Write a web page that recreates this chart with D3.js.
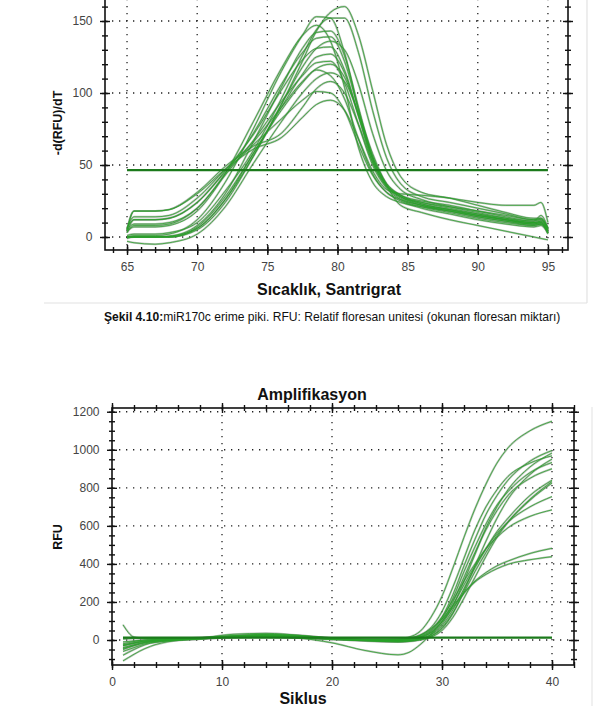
<!DOCTYPE html>
<html>
<head>
<meta charset="utf-8">
<script src="https://cdn.jsdelivr.net/npm/d3@7"></script>
<style>
  body { margin: 0; background: #fff; }
  svg { display: block; font-family: "Liberation Sans", Arial, sans-serif; }
</style>
</head>
<body>
<svg id="fig" width="599" height="706"></svg>
<script>
// ---- melt curve (Sekil 4.10) ----
const meltTemps = [65, 65.5, 67, 68, 70, 72, 74, 76, 77.5, 78.5, 79.5, 80.5, 81.5, 82.5, 83.5, 84.5, 86, 88, 90, 92, 94, 94.5, 95];
const meltCurves = [
  [-1, 0, 0, 0.5, 6, 26, 56, 92, 122, 143, 156, 160, 140, 102, 64, 42, 31, 27, 22, 17, 13, 13, 6],
  [0, 1, 1, 2, 12, 38, 75, 115, 140, 153, 152, 128, 88, 54, 36, 29, 25, 22, 18, 14, 11, 12, 5],
  [1, 2, 2, 3, 10, 32, 60, 96, 126, 144, 152, 152, 128, 88, 55, 37, 28, 24, 20, 16, 12, 12, 6],
  [4, 7, 7, 8, 18, 44, 80, 117, 140, 147, 136, 104, 62, 38, 28, 24, 21, 18, 15, 12, 10, 11, 4],
  [0, 0, 0, 0.5, 8, 30, 66, 104, 131, 142, 143, 126, 90, 56, 37, 29, 24, 20, 16, 12, 9, 10, 3],
  [5, 9, 9, 10, 20, 44, 72, 106, 128, 138, 139, 122, 88, 55, 36, 28, 23, 19, 15, 12, 10, 11, 5],
  [0, 0, 0, 0, 5, 24, 56, 92, 118, 131, 136, 130, 106, 72, 46, 33, 26, 21, 17, 13, 10, 10, 4],
  [6, 12, 12, 13, 24, 46, 71, 102, 123, 131, 132, 116, 84, 52, 35, 27, 22, 18, 14, 11, 9, 10, 3],
  [0, 0, 0, 0, 7, 28, 58, 90, 113, 125, 127, 114, 84, 54, 36, 28, 22, 18, 14, 11, 8, 9, 2],
  [3, 8, 8, 9, 20, 43, 67, 94, 112, 121, 122, 107, 78, 50, 34, 26, 21, 17, 13, 10, 8, 9, 3],
  [6, 14, 14, 15, 27, 47, 66, 90, 108, 116, 112, 96, 68, 44, 31, 25, 20, 16, 12, 9, 7, 8, 3],
  [-3, -4, -5, -4, 2, 21, 51, 80, 100, 110, 114, 108, 86, 58, 36, 22, 17, 12, 8, 4, 0, -1, -2],
  [5, 18, 18, 19, 31, 49, 63, 72, 90, 103, 108, 100, 78, 52, 35, 28, 24, 21, 18, 15, 12, 13, 6],
  [5, 18, 18, 19, 30, 47, 61, 69, 83, 92, 95, 88, 68, 46, 33, 30, 29, 27, 24, 22, 22, 24, 10],
  [0, 0, 0, 0, 6, 26, 58, 88, 107, 117, 120, 111, 85, 56, 37, 29, 23, 19, 15, 12, 9, 9, 3],
  [3, 12, 12, 13, 24, 45, 64, 82, 95, 101, 100, 88, 64, 43, 31, 26, 22, 19, 16, 13, 11, 15, 6]
];
const meltThreshold = 46.5;
const meltXTicks = [65, 70, 75, 80, 85, 90, 95];
const meltYTicks = [0, 50, 100, 150];

// ---- amplification ----
const ampCycles = [1, 2, 3, 5, 8, 11, 14, 17, 20, 23, 26, 27, 28, 29, 30, 31, 32, 33, 34, 35, 36, 38, 40];
const ampCurves = [
  [-30, -15, -5, 0, 8, 20, 25, 15, 5, 0, 5, 15, 45, 120, 230, 380, 540, 690, 820, 930, 1010, 1100, 1150],
  [-50, -30, -15, -2, 10, 30, 35, 25, 10, 0, 0, 5, 18, 50, 120, 240, 390, 530, 660, 760, 840, 940, 996],
  [-20, -8, 0, 5, 10, 15, 20, 15, 5, -5, -10, -5, 5, 30, 85, 180, 310, 450, 590, 700, 790, 910, 983],
  [10, 12, 10, 8, 12, 22, 28, 22, 10, 5, 5, 10, 25, 65, 150, 280, 430, 580, 700, 790, 860, 930, 968],
  [-40, -25, -12, 0, 8, 18, 22, 18, 8, -2, -8, -5, 2, 20, 60, 140, 260, 390, 520, 640, 740, 870, 951],
  [-60, -40, -20, -5, 5, 15, 18, 15, 8, 2, 0, 5, 15, 45, 110, 220, 360, 490, 610, 710, 780, 880, 933],
  [-10, -5, 0, 5, 10, 15, 18, 12, 5, 0, -3, 0, 8, 28, 75, 160, 270, 380, 480, 570, 640, 760, 840],
  [-30, -18, -8, 0, 8, 14, 16, 12, 5, -3, -10, -8, 0, 15, 50, 120, 220, 330, 440, 540, 620, 740, 833],
  [5, 8, 8, 8, 12, 18, 20, 14, 6, 0, -5, -3, 5, 22, 65, 145, 250, 360, 460, 550, 620, 735, 825],
  [-25, -15, -5, 2, 10, 20, 25, 20, 8, 0, -2, 2, 12, 38, 95, 185, 290, 390, 480, 560, 620, 700, 754],
  [-45, -28, -12, 0, 10, 22, 30, 24, 10, 3, 2, 8, 22, 55, 120, 210, 310, 400, 480, 540, 590, 650, 684],
  [-80, -50, -25, -5, 5, 15, 15, 10, 2, -3, 0, 8, 25, 60, 110, 180, 250, 310, 355, 390, 415, 455, 482],
  [-110, -75, -45, -10, 5, 15, 18, 10, -15, -55, -78, -65, -25, 30, 95, 170, 245, 305, 345, 375, 398, 422, 438],
  [80, 15, 8, 5, 10, 20, 24, 18, 8, 2, 0, 4, 14, 40, 100, 200, 330, 460, 580, 680, 760, 850, 900]
];
const ampThreshold = 12;
const ampXTicks = [0, 10, 20, 30, 40];
const ampYTicks = [0, 200, 400, 600, 800, 1000, 1200];

const svg = d3.select('#fig');
let clipId = 0;

function drawPanel(cfg) {
  const x = d3.scaleLinear().domain(cfg.xDomain).range([cfg.left, cfg.right]);
  const y = d3.scaleLinear().domain(cfg.yDomain).range([cfg.bottom, cfg.top]);
  const g = svg.append('g');

  const cid = 'clip' + (clipId++);
  g.append('clipPath').attr('id', cid).append('rect')
    .attr('x', cfg.left).attr('y', cfg.top)
    .attr('width', cfg.right - cfg.left).attr('height', cfg.bottom - cfg.top);

  // dotted grid
  const grid = g.append('g').attr('stroke', '#222').attr('stroke-width', 1.3)
    .attr('stroke-dasharray', '1.3,5.7');
  grid.selectAll('.gx').data(cfg.xTicks.filter(d => x(d) > cfg.left + 1)).join('line')
    .attr('x1', d => x(d)).attr('x2', d => x(d))
    .attr('y1', cfg.top).attr('y2', cfg.bottom);
  grid.selectAll('.gy').data(cfg.yTicks).join('line')
    .attr('x1', cfg.left).attr('x2', cfg.right)
    .attr('y1', d => y(d)).attr('y2', d => y(d));

  // curves
  const line = d3.line()
    .x((d, i) => x(cfg.xs[i]))
    .y(d => y(d))
    .curve(d3.curveMonotoneX);
  const cg = g.append('g').attr('clip-path', `url(#${cid})`);
  cg.selectAll('.halo').data(cfg.curves).join('path')
    .attr('d', line).attr('fill', 'none')
    .attr('stroke', '#7d8f7d').attr('stroke-width', 2).attr('stroke-opacity', 0.55);
  cg.selectAll('.core').data(cfg.curves).join('path')
    .attr('d', line).attr('fill', 'none')
    .attr('stroke', '#28a028').attr('stroke-width', 0.9).attr('stroke-opacity', 0.85);

  // threshold
  cg.append('line')
    .attr('x1', x(cfg.thrFrom)).attr('x2', x(cfg.thrTo))
    .attr('y1', y(cfg.threshold)).attr('y2', y(cfg.threshold))
    .attr('stroke', '#1b7a1b').attr('stroke-width', 2.2);

  // frame
  g.append('rect')
    .attr('x', cfg.left).attr('y', cfg.top)
    .attr('width', cfg.right - cfg.left).attr('height', cfg.bottom - cfg.top)
    .attr('fill', 'none').attr('stroke', '#111').attr('stroke-width', 1.6);

  // ticks
  function ticks(axisFn, pos, transform, minor, major, labels) {
    const mg = g.append('g').attr('transform', transform)
      .call(axisFn(pos).tickValues(minor).tickFormat('').tickSize(3).tickSizeOuter(0));
    mg.select('.domain').remove();
    const Mg = g.append('g').attr('transform', transform)
      .call(axisFn(pos).tickValues(major).tickSize(5).tickPadding(7.5).tickSizeOuter(0)
        .tickFormat(labels ? d3.format('d') : ''));
    Mg.select('.domain').remove();
    [mg, Mg].forEach((a, k) => {
      const s = k === 0 ? 3 : 5;
      a.selectAll('.tick line').attr('stroke', '#111').attr('stroke-width', 1.4);
      if (axisFn === d3.axisLeft || axisFn === d3.axisRight) {
        a.selectAll('.tick line').attr('x1', -s).attr('x2', s);
      } else {
        a.selectAll('.tick line').attr('y1', -s).attr('y2', s);
      }
    });
    Mg.selectAll('.tick text').attr('fill', '#444').attr('font-size', 12)
      .attr('font-family', '"Liberation Sans", Arial, sans-serif');
  }
  ticks(d3.axisLeft, y, `translate(${cfg.left},0)`, cfg.yMinor, cfg.yTicks, true);
  ticks(d3.axisRight, y, `translate(${cfg.right},0)`, cfg.yMinor, cfg.yTicks, false);
  ticks(d3.axisBottom, x, `translate(0,${cfg.bottom})`, cfg.xMinor, cfg.xTicks, true);
  ticks(d3.axisTop, x, `translate(0,${cfg.top})`, cfg.xMinor, cfg.xTicks, false);
}

// panel frames (light gray page borders)
svg.append('line').attr('x1', 44).attr('x2', 587).attr('y1', 303).attr('y2', 303)
  .attr('stroke', '#e2e2e2').attr('stroke-width', 1.2);
svg.append('line').attr('x1', 587).attr('x2', 587).attr('y1', 0).attr('y2', 303)
  .attr('stroke', '#e2e2e2').attr('stroke-width', 1.2);
svg.append('line').attr('x1', 592).attr('x2', 592).attr('y1', 407).attr('y2', 706)
  .attr('stroke', '#e6e6e6').attr('stroke-width', 1.2);

drawPanel({
  xDomain: [63.43, 96.43], yDomain: [-9.03, 175],
  left: 105, right: 568, top: -15, bottom: 250,
  xs: meltTemps, curves: meltCurves,
  threshold: meltThreshold, thrFrom: 65, thrTo: 95,
  xTicks: meltXTicks, yTicks: meltYTicks,
  xMinor: d3.range(64, 97, 1), yMinor: d3.range(0, 171, 10)
});

drawPanel({
  xDomain: [0, 42], yDomain: [-131.4, 1219.6],
  left: 112, right: 574, top: 408, bottom: 665,
  xs: ampCycles, curves: ampCurves,
  threshold: ampThreshold, thrFrom: 1, thrTo: 40,
  xTicks: ampXTicks, yTicks: ampYTicks,
  xMinor: d3.range(0, 42.1, 2), yMinor: d3.range(-100, 1201, 50)
});

// axis titles
svg.append('text').attr('transform', 'translate(62,123) rotate(-90)')
  .attr('text-anchor', 'middle').attr('font-weight', 'bold').attr('font-size', 12.5)
  .attr('fill', '#111').text('-d(RFU)/dT');
svg.append('text').attr('x', 329).attr('y', 295)
  .attr('text-anchor', 'middle').attr('font-weight', 'bold').attr('font-size', 16)
  .attr('fill', '#111').text('Sıcaklık, Santrigrat');

const cap = svg.append('text').attr('x', 104).attr('y', 321)
  .attr('font-size', 12.1).attr('fill', '#111');
cap.append('tspan').attr('font-weight', 'bold').text('Şekil 4.10:');
cap.append('tspan').text('miR170c erime piki. RFU: Relatif floresan unitesi (okunan floresan miktarı)');

svg.append('text').attr('x', 312).attr('y', 400)
  .attr('text-anchor', 'middle').attr('font-weight', 'bold').attr('font-size', 16)
  .attr('fill', '#111').text('Amplifikasyon');
svg.append('text').attr('transform', 'translate(62,537) rotate(-90)')
  .attr('text-anchor', 'middle').attr('font-weight', 'bold').attr('font-size', 12.5)
  .attr('fill', '#111').text('RFU');
svg.append('text').attr('x', 303).attr('y', 704)
  .attr('text-anchor', 'middle').attr('font-weight', 'bold').attr('font-size', 16)
  .attr('fill', '#111').text('Siklus');
</script>
</body>
</html>
